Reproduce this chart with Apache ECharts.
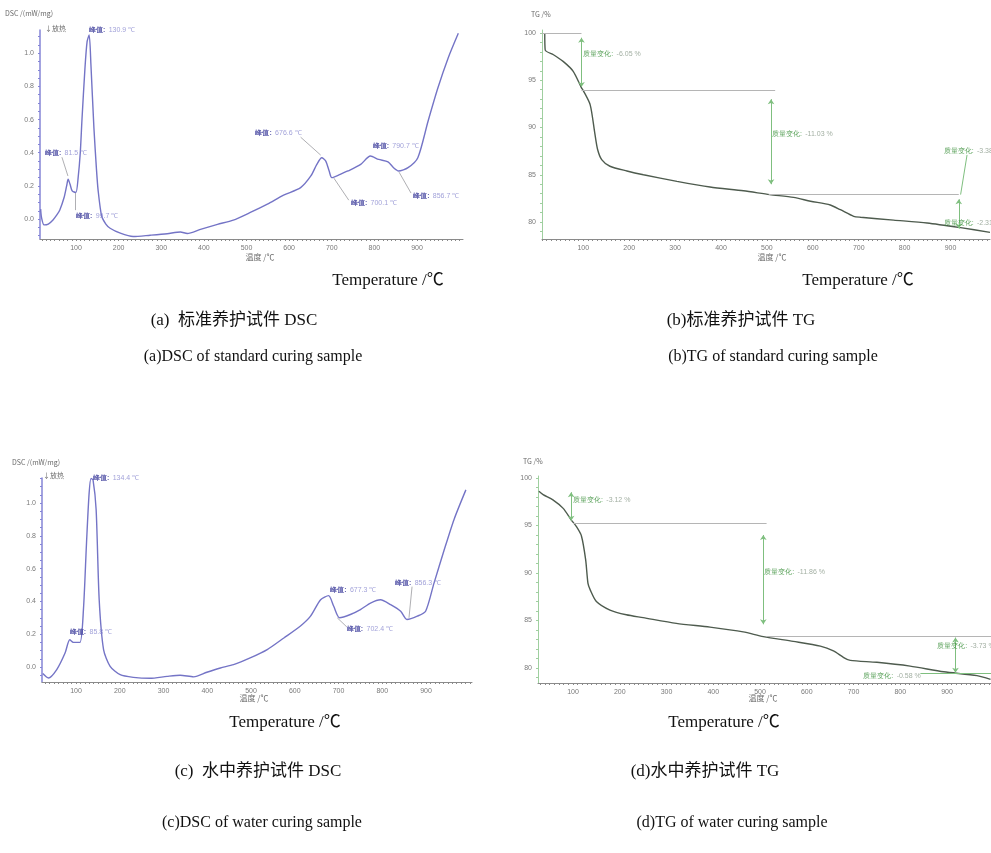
<!DOCTYPE html>
<html><head><meta charset="utf-8">
<script src="https://cdn.jsdelivr.net/npm/echarts@6/dist/echarts.min.js"></script>
<style>html,body{margin:0;padding:0;background:#fff}#c{width:991px;height:853px}</style>
</head><body><div id="c"></div>
<script>
// ---------- (a) DSC standard curing ----------
const dscA_T = [17,19,25,35,46,55,62,72,78,81.5,86,91,99.7,105,110,114,121,126,130.9,135,142,148,152,160,170,180,204,234,274,314,345,361,392,432,469,509,549,587,627,651,665,676.6,686,694,700.1,720,738,768,790.7,810,832,845,856.7,879,902,926,949,973,997];
const dscA_V = [0.06,0.01,-0.035,-0.03,-0.005,0.025,0.055,0.13,0.2,0.24,0.21,0.17,0.16,0.25,0.4,0.6,0.91,1.07,1.11,0.93,0.55,0.3,0.17,0.02,-0.03,-0.055,-0.085,-0.105,-0.097,-0.088,-0.078,-0.087,-0.062,-0.032,-0.006,0.04,0.09,0.144,0.19,0.26,0.33,0.37,0.35,0.29,0.25,0.27,0.29,0.33,0.38,0.36,0.345,0.31,0.29,0.31,0.37,0.59,0.79,0.97,1.12];
const dscA_labT = [130.6,27,100,521,745,796,891];
const dscA_labV = [1.14,0.40,0.018,0.518,0.096,0.44,0.139];
const dscA_labText = ['130.9','81.5','99.7','676.6','700.1','790.7','856.7'];
const dscA_leaders = [[67,0.373,81,0.26],[98,0.157,98,0.054],[627,0.494,674,0.386],[705,0.247,740,0.114],[858,0.283,886,0.157]];

// ---------- (b) TG standard curing ----------
const tgB_T = [16,17,35,56,78,96,100,115,125,131,140,158,195,231,304,376,449,506,558,595,638,660,689,704,776,849,922,986];
const tgB_V = [100.0,98.2,97.7,97.0,95.95,94.2,93.9,92.4,89.4,87.7,86.6,85.9,85.4,85.0,84.3,83.7,83.3,82.9,82.6,82.2,81.8,81.3,80.6,80.5,80.2,79.9,79.4,78.9];
const tgB_labT = [100,511,885,885];
const tgB_labV = [97.8,89.3,87.5,79.9];
const tgB_labText = ['-6.05','-11.03','-3.38','-2.31'];

// ---------- (c) DSC water curing ----------
const dscC_T = [24,37,56,75,85.8,94,109,117,124,130,134.4,139,146,153,163,178,201,231,269,308,338,369,399,430,460,498,537,575,613,636,659,677.3,689,702.4,727,750,773,796,819,842,856.3,880,899,918,941,964,991];
const dscC_V = [-0.04,-0.067,-0.016,0.085,0.166,0.15,0.15,0.35,0.755,1.06,1.15,1.14,0.96,0.41,0.106,0.004,-0.047,-0.063,-0.069,-0.057,-0.05,-0.06,-0.032,-0.006,0.014,0.055,0.106,0.177,0.25,0.31,0.41,0.435,0.37,0.30,0.32,0.35,0.39,0.41,0.38,0.34,0.29,0.31,0.34,0.51,0.71,0.90,1.08];
const dscC_labT = [139,86,681,719,829];
const dscC_labV = [1.15,0.213,0.47,0.232,0.512];
const dscC_labText = ['134.4','85.8','677.3','702.4','856.3'];
const dscC_leaders = [[697,0.30,719,0.244],[868,0.49,861,0.30]];

// ---------- (d) TG water curing ----------
const tgD_T = [27,36,57,79,96,107,118,127,132,137,150,179,214,250,321,393,464,507,571,629,657,679,693,750,821,893,964,993];
const tgD_V = [98.6,98.25,97.7,96.8,95.6,94.9,93.9,91.4,88.9,88.2,87.0,86.1,85.6,85.3,84.7,84.3,83.8,83.3,82.8,82.3,81.8,81.1,80.8,80.6,80.2,79.6,79.2,78.8];
const tgD_labT = [100,509,879,721];
const tgD_labV = [97.7,90.1,82.3,79.1];
const tgD_labText = ['-3.12','-11.86','-3.73','-0.58'];

// tick labels
const tempTicks = [100,200,300,400,500,600,700,800,900];
const dscTicks = [0,0.2,0.4,0.6,0.8,1.0];
const tgTicks = [80,85,90,95,100];

// annotation lines for TG: [t1,v1,t2,v2,kind]  kind: 0 = plain gray, 1 = arrows green, 2 = plain green
const tgB_lines = [[10,100,96,100,0],[96,99.5,96,94.3,1],[96,93.94,518,93.94,0],[509,93.0,509,84.0,1],[504,82.9,918,82.9,0],[918,82.4,918,79.3,1],[936,87.1,922,82.9,2]];
const tgD_lines = [[25,98.67,96,98.67,0],[96,98.5,96,95.5,1],[100,95.19,514,95.19,0],[507,94.0,507,84.6,1],[514,83.33,994,83.33,0],[918,83.2,918,79.5,1],[843,79.4,994,79.4,2]];

const zip = (a,b) => a.map((x,i)=>[x,b[i]]);
const range = (a,b,s) => { const r=[]; for(let v=Math.ceil(a/s)*s; v<=b+1e-9; v+=s) r.push(+v.toFixed(4)); return r; };

const DSC_COL = '#7474c6', TG_COL = '#4e5b4e';
const grids = [
  {left:40, top:30, width:423, height:209},
  {left:542, top:30, width:448, height:209},
  {left:42, top:478, width:430, height:204},
  {left:538, top:476, width:453, height:207}
];
const xr = [[15.5,1008],[10,986],[22.3,1005],[25.1,994]];
const yr = [[-0.12,1.14],[78.2,100.32],[-0.0915,1.1524],[78.42,100.21]];
const isDsc = [true,false,true,false];

const xAxis = xr.map((r,i)=>({
  type:'value', gridIndex:i, min:r[0], max:r[1],
  axisLine:{onZero:false, lineStyle:{color:'#8a8a8a', width:1}},
  axisTick:{show:true, customValues: range(r[0], r[1], 10), length:2, lineStyle:{color:'#8a8a8a'}},
  axisLabel:{customValues: tempTicks, fontSize:7, color:'#7a7a7a', margin:6},
  splitLine:{show:false}
}));
const yAxis = yr.map((r,i)=>({
  type:'value', gridIndex:i, min:r[0], max:r[1],
  axisLine:{show:true, onZero:false, lineStyle:{color: isDsc[i] ? '#8585d6' : '#9fcf9f', width: isDsc[i]?1.5:1}},
  axisTick:{show:true, customValues: isDsc[i] ? range(r[0], r[1], 0.05) : range(r[0], r[1], 1), length:2,
    lineStyle:{color: isDsc[i] ? '#8585d6' : '#9fcf9f'}},
  axisLabel:{customValues: isDsc[i] ? dscTicks : tgTicks, fontSize:7, color:'#7a7a7a', margin:6,
    formatter: v => isDsc[i] ? v.toFixed(1) : String(Math.round(v))},
  splitLine:{show:false}
}));

function curve(i, T, V, color){
  return {type:'line', xAxisIndex:i, yAxisIndex:i, data:zip(T,V), showSymbol:false, smooth:0.25,
    lineStyle:{color, width:1.4}, animation:false, z:3};
}
function dscLabels(i, T, V, txt, leaders){
  return {type:'scatter', xAxisIndex:i, yAxisIndex:i, clip:false, symbolSize:0, animation:false, z:5,
    data: T.map((t,k)=>[t, V[k], txt[k]]),
    label:{show:true, position:'right', distance:0,
      formatter: p => '{a|峰值:} {b|' + p.data[2] + ' ℃}',
      rich:{a:{fontSize:7, color:'#3a3a9a', fontWeight:'bold'}, b:{fontSize:7, color:'#8a8ad0'}}},
    markLine:{silent:true, symbol:'none', animation:false, label:{show:false},
      lineStyle:{color:'#9a9aa0', width:0.8, type:'solid'},
      data: leaders.map(l=>[{coord:[l[0],l[1]]},{coord:[l[2],l[3]]}])}
  };
}
function tgLabels(i, T, V, txt, lines){
  return {type:'scatter', xAxisIndex:i, yAxisIndex:i, clip:false, symbolSize:0, animation:false, z:5,
    data: T.map((t,k)=>[t, V[k], txt[k]]),
    label:{show:true, position:'right', distance:0,
      formatter: p => '{a|质量变化:} {b|' + p.data[2] + ' %}',
      rich:{a:{fontSize:7, color:'#2f8a2f'}, b:{fontSize:7, color:'#8a9a8a'}}},
    markLine:{silent:true, animation:false, label:{show:false}, symbol:'none',
      data: lines.map(l=>{
        const col = l[4]===0 ? '#b5b5b5' : '#7fbf7f';
        const sym = l[4]===1 ? 'arrow' : 'none';
        return [{coord:[l[0],l[1]], symbol:sym, symbolSize:5, lineStyle:{color:col, width:1, type:'solid'}},
                {coord:[l[2],l[3]], symbol:sym, symbolSize:5}];
      })}
  };
}

const series = [
  curve(0, dscA_T, dscA_V, DSC_COL),
  curve(1, tgB_T, tgB_V, TG_COL),
  curve(2, dscC_T, dscC_V, DSC_COL),
  curve(3, tgD_T, tgD_V, TG_COL),
  dscLabels(0, dscA_labT, dscA_labV, dscA_labText, dscA_leaders),
  tgLabels(1, tgB_labT, tgB_labV, tgB_labText, tgB_lines),
  dscLabels(2, dscC_labT, dscC_labV, dscC_labText, dscC_leaders),
  tgLabels(3, tgD_labT, tgD_labV, tgD_labText, tgD_lines)
];

const SERIF = "'Liberation Serif','Times New Roman','Noto Sans CJK SC',serif";
const SANS = "'Noto Sans CJK SC','Noto Sans',sans-serif";
function txt(text, x, y, size, fam, fill, align){
  return {type:'text', x, y, silent:true, style:{text, font: size+'px '+fam, fill: fill||'#111', align: align||'center', verticalAlign:'middle'}};
}
const graphic = [
  // small panel texts
  txt('DSC /(mW/mg)', 5, 13, 7, SANS, '#6a6a6a', 'left'),
  txt('↓放热', 45, 28, 7, SANS, '#6a6a6a', 'left'),
  txt('温度 /℃', 260, 257, 8, SANS, '#6a6a6a'),
  txt('TG /%', 531, 14, 7, SANS, '#6a6a6a', 'left'),
  txt('温度 /℃', 772, 257, 8, SANS, '#6a6a6a'),
  txt('DSC /(mW/mg)', 12, 462, 7, SANS, '#6a6a6a', 'left'),
  txt('↓放热', 43, 475, 7, SANS, '#6a6a6a', 'left'),
  txt('温度 /℃', 254, 698, 8, SANS, '#6a6a6a'),
  txt('TG /%', 523, 461, 7, SANS, '#6a6a6a', 'left'),
  txt('温度 /℃', 763, 698, 8, SANS, '#6a6a6a'),
  // captions
  txt('Temperature /℃', 388, 281, 17, SERIF),
  txt('Temperature /℃', 858, 281, 17, SERIF),
  txt('(a)  标准养护试件 DSC', 234, 321, 17, SERIF),
  txt('(b)标准养护试件 TG', 741, 321, 17, SERIF),
  txt('(a)DSC of standard curing sample', 253, 357, 16, SERIF),
  txt('(b)TG of standard curing sample', 773, 357, 16, SERIF),
  txt('Temperature /℃', 285, 723, 17, SERIF),
  txt('Temperature /℃', 724, 723, 17, SERIF),
  txt('(c)  水中养护试件 DSC', 258, 772, 17, SERIF),
  txt('(d)水中养护试件 TG', 705, 772, 17, SERIF),
  txt('(c)DSC of water curing sample', 262, 823, 16, SERIF),
  txt('(d)TG of water curing sample', 732, 823, 16, SERIF)
];

const chart = echarts.init(document.getElementById('c'), null, {renderer:'canvas'});
chart.setOption({backgroundColor:'#fff', animation:false, grid:grids, xAxis, yAxis, series, graphic});
</script>
</body></html>
